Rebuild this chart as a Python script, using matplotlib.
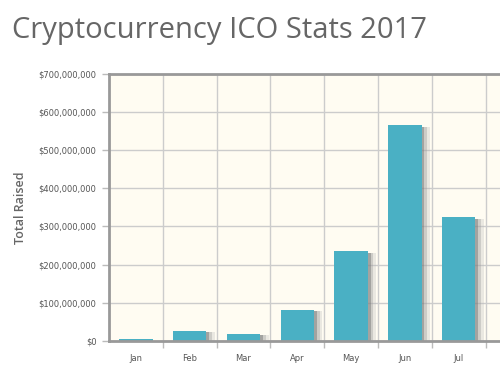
import numpy as np
import matplotlib
matplotlib.use("Agg")
import matplotlib.pyplot as plt
import matplotlib.patheffects as pe
from matplotlib.ticker import FuncFormatter, MultipleLocator

months = ["Jan", "Feb", "Mar", "Apr", "May", "Jun", "Jul", "Aug"]
raised = [4e6, 26e6, 19e6, 81e6, 235e6, 564e6, 324e6, 0]

fig = plt.figure(figsize=(5, 3.72), dpi=100)
ax = fig.add_axes([0.218, 0.0833, 0.782, 0.7191])
ax.set_facecolor("#fffcf2")

x = np.arange(len(months))
bars = ax.bar(x, raised, width=0.62, color="#4ab0c4", zorder=3)
for b in bars:
    b.set_path_effects([
        pe.SimplePatchShadow(offset=(6, -1), shadow_rgbFace="#bbbbbb", alpha=0.3),
        pe.SimplePatchShadow(offset=(4, -1), shadow_rgbFace="#999999", alpha=0.35),
        pe.SimplePatchShadow(offset=(2, -1), shadow_rgbFace="#666666", alpha=0.4),
        pe.Normal(),
    ])

ax.set_xticks(x)
ax.set_xticklabels(months)
ax.set_xticks(np.arange(len(months)) + 0.5, minor=True)
ax.set_xlim(-0.5, -0.5 + 391 / 53.8)
ax.set_ylim(0, 700e6)
ax.yaxis.set_major_locator(MultipleLocator(100e6))
ax.yaxis.set_major_formatter(FuncFormatter(lambda v, p: "${:,.0f}".format(v)))

ax.grid(False)
ax.grid(axis="x", which="minor", color="#cccccc", lw=1, zorder=0)
ax.grid(axis="y", which="major", color="#cccccc", lw=1, zorder=0)

ax.tick_params(axis="x", which="major", length=0, pad=9, labelsize=6, labelcolor="#555555")
ax.tick_params(axis="x", which="minor", length=5, color="#bbbbbb", width=1)
ax.tick_params(axis="y", length=5, color="#bbbbbb", width=1, pad=4, labelsize=6, labelcolor="#555555")

for s in ["left", "bottom", "top"]:
    ax.spines[s].set_color("#999999")
    ax.spines[s].set_linewidth(2)
    ax.spines[s].set_zorder(4)
ax.spines["right"].set_visible(False)

ax.set_ylabel("Total Raised", fontsize=9, color="#666666", family="Open Sans",
             fontweight="semibold")
ax.yaxis.set_label_coords(-0.21, 0.5)

fig.text(12 / 500, 1 - 38 / 372, "Cryptocurrency ICO Stats 2017", fontsize=21,
         color="#666666", family="Open Sans", va="baseline", ha="left")

fig.savefig("out.png", dpi=100)
